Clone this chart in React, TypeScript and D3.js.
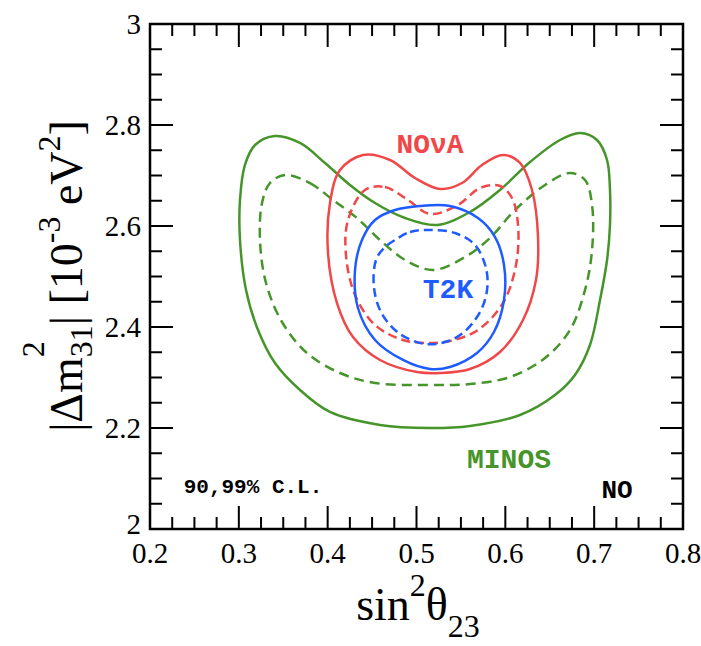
import React from "react";
import * as d3 from "d3";

// contours: [sin^2 theta23, |dm31^2| in 1e-3 eV^2]
const minos99: [number, number][] = [
  [0.3407, 2.7782], [0.3689, 2.7644], [0.397, 2.7248], [0.4251, 2.6812], [0.4533, 2.6455],
  [0.4871, 2.6158], [0.5231, 2.602], [0.5602, 2.6277], [0.594, 2.6713], [0.6278, 2.7267],
  [0.6615, 2.7703], [0.6841, 2.7842], [0.7032, 2.7703], [0.7145, 2.7307], [0.7178, 2.6713],
  [0.7178, 2.602], [0.7145, 2.5327], [0.7066, 2.4535], [0.6953, 2.3644], [0.6784, 2.305],
  [0.6559, 2.2653], [0.6165, 2.2257], [0.5602, 2.204], [0.5152, 2.2], [0.4589, 2.2059],
  [0.4026, 2.2317], [0.3689, 2.2752], [0.3407, 2.3287], [0.3216, 2.3941], [0.3081, 2.4733],
  [0.3013, 2.5723], [0.3013, 2.6515], [0.3069, 2.7208], [0.3182, 2.7604],
];
const minos90: [number, number][] = [
  [0.352, 2.701], [0.3801, 2.6851], [0.406, 2.6515], [0.433, 2.6158], [0.4589, 2.5723],
  [0.4871, 2.5327], [0.5186, 2.5129], [0.5546, 2.5386], [0.5827, 2.5762], [0.6109, 2.6317],
  [0.6447, 2.6812], [0.6728, 2.705], [0.6897, 2.6911], [0.6976, 2.6416], [0.6976, 2.5525],
  [0.6897, 2.4733], [0.6728, 2.3941], [0.6447, 2.3386], [0.6053, 2.301], [0.5602, 2.2871],
  [0.5152, 2.2851], [0.4533, 2.2891], [0.4139, 2.3089], [0.3767, 2.3485], [0.3486, 2.4099],
  [0.3306, 2.4871], [0.3238, 2.5723], [0.3261, 2.6455], [0.3351, 2.6851],
];
const nova99: [number, number][] = [
  [0.4398, 2.7406], [0.4702, 2.7307], [0.4983, 2.695], [0.5265, 2.6733], [0.5512, 2.6851],
  [0.5737, 2.7208], [0.5974, 2.7406], [0.6165, 2.7248], [0.63, 2.6713], [0.6368, 2.5782],
  [0.6345, 2.4931], [0.6199, 2.4139], [0.594, 2.3505], [0.5602, 2.3168], [0.5265, 2.3089],
  [0.5006, 2.3109], [0.4589, 2.3347], [0.4285, 2.3802], [0.4105, 2.4475], [0.4004, 2.5465],
  [0.4026, 2.6455], [0.4139, 2.7109],
];
const nova90: [number, number][] = [
  [0.442, 2.6713], [0.4645, 2.6772], [0.4904, 2.6515], [0.5152, 2.6238], [0.5467, 2.6416],
  [0.5715, 2.6752], [0.594, 2.6792], [0.6075, 2.6554], [0.6143, 2.602], [0.612, 2.5228],
  [0.5974, 2.4475], [0.5692, 2.3941], [0.5377, 2.3723], [0.513, 2.3683], [0.4848, 2.3743],
  [0.4533, 2.404], [0.4308, 2.4634], [0.4206, 2.5426], [0.4229, 2.6119],
];
const t2k99: [number, number][] = [
  [0.4758, 2.6317], [0.5039, 2.6396], [0.5377, 2.6396], [0.5692, 2.6158], [0.5884, 2.5782],
  [0.5985, 2.5228], [0.5985, 2.4535], [0.5872, 2.3901], [0.5681, 2.3485], [0.5377, 2.3208],
  [0.5152, 2.3168], [0.4848, 2.3347], [0.4533, 2.3743], [0.4341, 2.4376], [0.4308, 2.5129],
  [0.4386, 2.5723], [0.4533, 2.6119],
];
const t2k90: [number, number][] = [
  [0.4758, 2.5723], [0.4927, 2.5881], [0.5152, 2.5921], [0.5433, 2.5861], [0.5659, 2.5624],
  [0.5782, 2.5168], [0.5794, 2.4733], [0.5715, 2.4297], [0.5523, 2.3881], [0.5321, 2.3703],
  [0.5096, 2.3663], [0.4814, 2.3861], [0.4612, 2.4257], [0.4522, 2.4772], [0.4544, 2.5327],
  [0.4634, 2.5564],
];

const xTicks = [0.2, 0.3, 0.4, 0.5, 0.6, 0.7, 0.8];
const yTicks = [2, 2.2, 2.4, 2.6, 2.8, 3];

const GREEN = "#46952a";
const RED = "#f04848";
const BLUE = "#1f5cff";

const serif = "'Liberation Serif', 'Times New Roman', Times, serif";
const mono = "'Courier New', 'Liberation Mono', monospace";

export default function App() {
  const W = 701, H = 646;
  const L = 150, R = 683, T = 24, B = 529;

  const x = d3.scaleLinear().domain([0.2, 0.8]).range([L, R]);
  const y = d3.scaleLinear().domain([2, 3]).range([B, T]);

  const line = d3
    .line<[number, number]>()
    .x((d) => x(d[0]))
    .y((d) => y(d[1]))
    .curve(d3.curveCatmullRomClosed.alpha(0.5));

  const xMinor = d3.range(0.2, 0.8001, 0.025);
  const yMinor = d3.range(2, 3.0001, 0.05);
  const isMajX = (v: number) => Math.abs(v * 10 - Math.round(v * 10)) < 1e-6;
  const isMajY = (v: number) => Math.abs(v * 5 - Math.round(v * 5)) < 1e-6;
  const MAJ = 23, MIN = 12;

  const contours = [
    { d: minos99, c: GREEN, dash: "none" },
    { d: minos90, c: GREEN, dash: "10 6" },
    { d: nova99, c: RED, dash: "none" },
    { d: nova90, c: RED, dash: "9 5" },
    { d: t2k99, c: BLUE, dash: "none" },
    { d: t2k90, c: BLUE, dash: "9 5" },
  ];

  return (
    <svg width={W} height={H} style={{ position: "absolute", left: 0, top: 0, background: "#fff" }}>
      {contours.map((k, i) => (
        <path key={i} d={line(k.d) || ""} fill="none" stroke={k.c} strokeWidth={2.5} strokeDasharray={k.dash} />
      ))}

      {/* ticks */}
      <g stroke="#000" strokeWidth={2}>
        {xMinor.map((v, i) => {
          const len = isMajX(v) ? MAJ : MIN;
          return (
            <g key={"x" + i}>
              <line x1={x(v)} x2={x(v)} y1={B} y2={B - len} />
              <line x1={x(v)} x2={x(v)} y1={T} y2={T + len} />
            </g>
          );
        })}
        {yMinor.map((v, i) => {
          const len = isMajY(v) ? MAJ : MIN;
          return (
            <g key={"y" + i}>
              <line x1={L} x2={L + len} y1={y(v)} y2={y(v)} />
              <line x1={R} x2={R - len} y1={y(v)} y2={y(v)} />
            </g>
          );
        })}
      </g>
      <rect x={L} y={T} width={R - L} height={B - T} fill="none" stroke="#000" strokeWidth={2.5} />

      {/* tick labels */}
      <g fontFamily={serif} fontSize={29} fill="#000">
        {xTicks.map((v) => (
          <text key={v} x={x(v)} y={B + 34} textAnchor="middle">
            {v.toFixed(1)}
          </text>
        ))}
        {yTicks.map((v) => (
          <text key={v} x={L - 9} y={y(v) + (v === 2 ? 5 : 10)} textAnchor="end">
            {v === 2 || v === 3 ? String(v) : v.toFixed(1)}
          </text>
        ))}
      </g>

      {/* axis titles */}
      <text x={418} y={620} textAnchor="middle" fontFamily={serif} fontSize={46} fill="#000">
        sin
        <tspan fontSize={32} dy={-24}>2</tspan>
        <tspan dy={24}>θ</tspan>
        <tspan fontSize={32} dy={17}>23</tspan>
      </text>
      <text
        transform="translate(82,276) rotate(-90)"
        textAnchor="middle"
        fontFamily={serif}
        fontSize={46}
        fill="#000"
      >
        |Δm
        <tspan fontSize={32} dy={-38}>2</tspan>
        <tspan fontSize={32} dx={-16} dy={48}>31</tspan>
        <tspan dy={-10}>| [10</tspan>
        <tspan fontSize={32} dy={-22}>-3</tspan>
        <tspan dy={22}> eV</tspan>
        <tspan fontSize={32} dy={-22}>2</tspan>
        <tspan dy={22}>]</tspan>
      </text>

      {/* labels */}
      <g fontFamily={mono} fontWeight="bold">
        <text x={430} y={153} textAnchor="middle" fontSize={28} fill={RED}>NOνA</text>
        <text x={448} y={298} textAnchor="middle" fontSize={28} fill={BLUE}>T2K</text>
        <text x={509} y={468} textAnchor="middle" fontSize={28} fill={GREEN}>MINOS</text>
        <text x={253} y={493} textAnchor="middle" fontSize={21} fill="#000">90,99% C.L.</text>
        <text x={617} y={498} textAnchor="middle" fontSize={26} fill="#000">NO</text>
      </g>
    </svg>
  );
}
